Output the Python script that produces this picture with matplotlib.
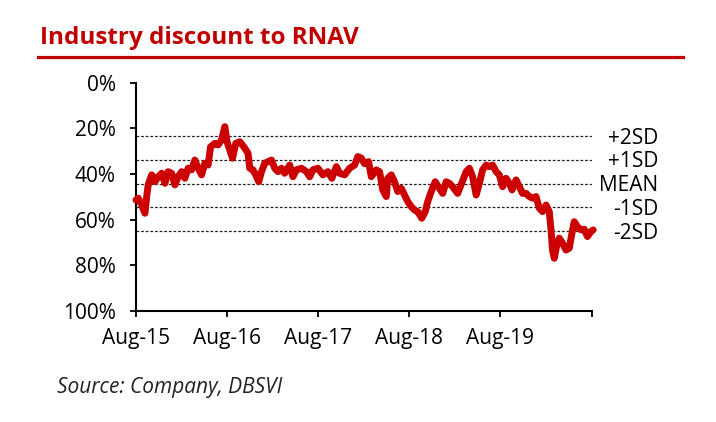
import matplotlib
matplotlib.use("Agg")
import matplotlib.pyplot as plt
import matplotlib.transforms as mtransforms
import pandas as pd

plt.rcParams['font.family'] = ['Open Sans', 'DejaVu Sans']

title = "Industry discount to RNAV"
source = "Source: Company, DBSVI"

dates = [
    "2015-08-02", "2015-08-11", "2015-08-25", "2015-09-07", "2015-09-14", "2015-09-20",
    "2015-10-04", "2015-10-17", "2015-10-30", "2015-11-13", "2015-11-26", "2015-12-09",
    "2015-12-23", "2016-01-05", "2016-01-18", "2016-02-01", "2016-02-14", "2016-02-27",
    "2016-03-12", "2016-03-25", "2016-04-07", "2016-04-21", "2016-05-04", "2016-05-17",
    "2016-05-27", "2016-06-13", "2016-06-26", "2016-07-10", "2016-07-23", "2016-08-01",
    "2016-08-12", "2016-08-23", "2016-09-05", "2016-09-21", "2016-10-07", "2016-10-24",
    "2016-10-31", "2016-11-13", "2016-11-27", "2016-12-06", "2016-12-17", "2016-12-30",
    "2017-01-12", "2017-01-26", "2017-02-08", "2017-02-21", "2017-03-07", "2017-03-20",
    "2017-04-09", "2017-04-22", "2017-05-06", "2017-05-26", "2017-06-15", "2017-06-28",
    "2017-07-11", "2017-07-31", "2017-08-20", "2017-09-09", "2017-09-25", "2017-10-13",
    "2017-10-26", "2017-11-15", "2017-12-05", "2017-12-25", "2018-01-07", "2018-01-21",
    "2018-02-03", "2018-02-19", "2018-03-02", "2018-03-22", "2018-04-04", "2018-04-17",
    "2018-05-01", "2018-05-07", "2018-05-21", "2018-06-03", "2018-06-16", "2018-06-30",
    "2018-07-13", "2018-07-26", "2018-08-09", "2018-08-22", "2018-09-04", "2018-09-20",
    "2018-10-04", "2018-10-14", "2018-10-28", "2018-11-13", "2018-11-26", "2018-12-13",
    "2018-12-27", "2019-01-09", "2019-01-22", "2019-02-11", "2019-02-27", "2019-03-17",
    "2019-03-30", "2019-04-12", "2019-04-26", "2019-05-09", "2019-05-22", "2019-06-05",
    "2019-06-18", "2019-07-01", "2019-07-15", "2019-07-28", "2019-08-10", "2019-08-24",
    "2019-09-06", "2019-09-17", "2019-10-03", "2019-10-16", "2019-10-29", "2019-11-12",
    "2019-11-25", "2019-12-08", "2019-12-22", "2020-01-04", "2020-01-17", "2020-01-31",
    "2020-02-13", "2020-02-20", "2020-02-26", "2020-03-04", "2020-03-13", "2020-03-24",
    "2020-04-06", "2020-04-20", "2020-05-03", "2020-05-14", "2020-05-23", "2020-06-05",
    "2020-06-19", "2020-07-02", "2020-07-15", "2020-07-29", "2020-08-07",
]
discount = [
    51.4, 50.6, 53.6, 57.2, 49.9, 44.8,
    40.4, 43.4, 41.2, 39.7, 44.1, 39.0,
    39.7, 44.8, 41.2, 39.0, 41.9, 37.5,
    38.2, 33.9, 37.5, 40.4, 35.3, 36.1,
    28.1, 26.6, 27.3, 25.1, 19.3, 25.9,
    29.5, 33.1, 26.6, 25.9, 28.1, 30.9,
    37.5, 38.2, 41.2, 43.4, 39.0, 35.3,
    34.6, 33.9, 37.5, 39.0, 37.5, 39.7,
    36.1, 41.2, 38.2, 37.5, 39.0, 41.2,
    38.2, 37.5, 40.4, 39.0, 41.9, 36.8,
    39.7, 40.4, 37.5, 36.1, 32.4, 33.1,
    35.5, 34.6, 41.2, 38.2, 39.0, 47.0,
    49.9, 41.9, 40.4, 43.4, 47.7, 46.3,
    49.2, 52.1, 54.3, 55.8, 56.5, 59.4,
    56.5, 52.1, 47.7, 43.4, 45.6, 48.5,
    43.4, 44.1, 45.6, 48.5, 44.1, 39.0,
    37.5, 41.2, 49.2, 44.1, 38.2, 36.1,
    36.8, 36.1, 39.0, 40.4, 45.6, 41.9,
    44.1, 47.0, 42.6, 45.6, 48.5, 48.5,
    49.9, 50.6, 49.9, 55.0, 56.5, 53.6,
    56.5, 64.5, 73.3, 76.9, 71.8, 68.1,
    70.3, 73.3, 72.5, 65.9, 60.9, 63.1,
    64.5, 64.2, 67.4, 65.2, 64.5,
]

band_labels = ["+2SD", "+1SD", "MEAN", "-1SD", "-2SD"]
band_values = [23.4, 33.8, 44.2, 54.6, 65.0]

tick_dates = ["2015-08-01", "2016-08-01", "2017-08-01", "2018-08-01", "2019-08-01", "2020-08-01"]
tick_labels = ["Aug-15", "Aug-16", "Aug-17", "Aug-18", "Aug-19", ""]
y_ticks = [0, 20, 40, 60, 80, 100]
y_labels = ["0%", "20%", "40%", "60%", "80%", "100%"]

W, H = 716, 422
fig = plt.figure(figsize=(W / 100, H / 100), dpi=100)
ax = fig.add_axes([135.7 / W, 1 - 311 / H, (591.7 - 135.7) / W, (311 - 82.6) / H])

x = pd.to_datetime(dates)
xt = pd.to_datetime(tick_dates)

for v in band_values:
    ax.axhline(v, color="#222222", lw=0.9, linestyle=(0, (2.2, 1.5)), zorder=1)

ax.plot(x, discount, color="#CC0000", lw=5.0, solid_joinstyle="round",
        solid_capstyle="round", zorder=3, clip_on=False)

ax.set_ylim(100, 0)
ax.set_xlim(xt[0], xt[-1])
ax.set_yticks(y_ticks)
ax.set_yticklabels(y_labels)
ax.set_xticks(xt)
ax.set_xticklabels(tick_labels)

for s in ["top", "right"]:
    ax.spines[s].set_visible(False)
for s in ["left", "bottom"]:
    ax.spines[s].set_linewidth(1.5)
    ax.spines[s].set_color("black")

ax.tick_params(axis="y", direction="out", length=4.5, width=1.3, pad=10, labelsize=15)
ax.tick_params(axis="x", direction="out", length=4, width=1.3, pad=8, labelsize=15)

trans = mtransforms.offset_copy(
    mtransforms.blended_transform_factory(ax.transAxes, ax.transData),
    fig=fig, x=0, y=-2, units="dots")
xr = (658 - 135.7) / (591.7 - 135.7)
for lab, v in zip(band_labels, band_values):
    ax.text(xr, v, lab, transform=trans, ha="right", va="center", fontsize=15, clip_on=False)

fig.text(40 / W, 1 - 38 / H, title, color="#C00000", fontsize=17.5, fontweight="bold",
         ha="left", va="center")
fig.add_artist(plt.Line2D([38 / W, 683 / W], [1 - 57 / H, 1 - 57 / H],
                          color="#C00000", lw=2.3, transform=fig.transFigure))
fig.text(57 / W, 1 - 387 / H, source, fontsize=15, style="italic", color="#222222",
         ha="left", va="center")

fig.savefig("out.png", dpi=100)
